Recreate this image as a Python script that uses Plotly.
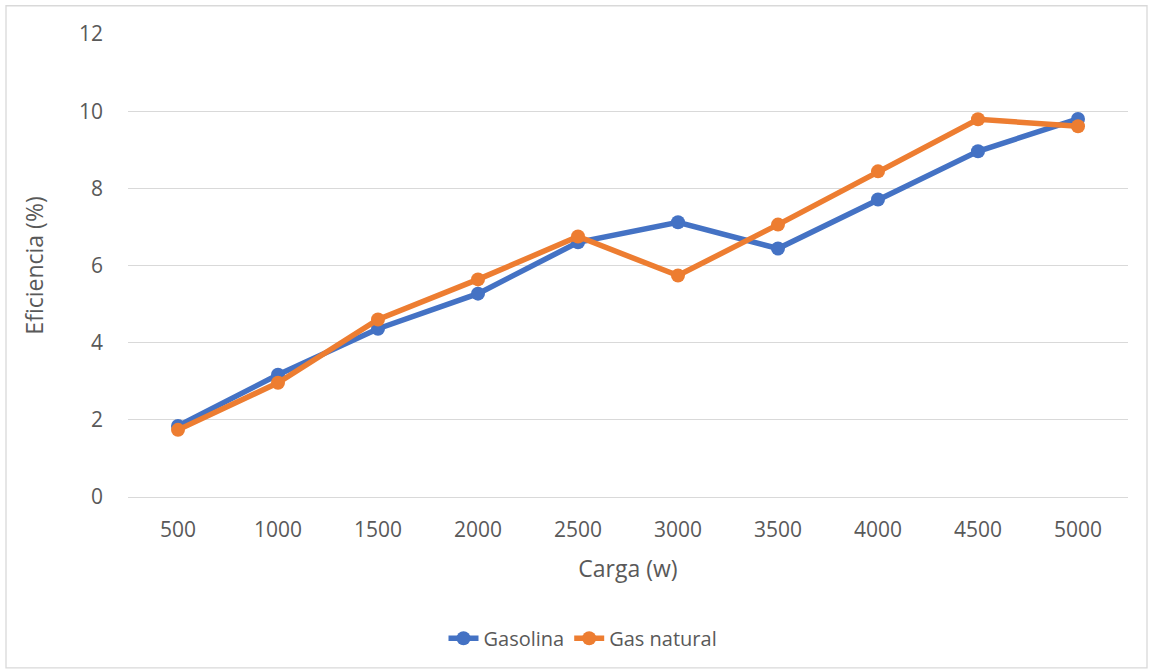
import plotly.graph_objects as go

# Carga (w) categories and efficiency (%) per fuel
cargas = ["500", "1000", "1500", "2000", "2500", "3000", "3500", "4000", "4500", "5000"]
gasolina = [1.84, 3.17, 4.36, 5.27, 6.60, 7.12, 6.44, 7.71, 8.96, 9.80]
gas_natural = [1.74, 2.96, 4.60, 5.64, 6.75, 5.74, 7.06, 8.44, 9.79, 9.61]
y_ticks = [0, 2, 4, 6, 8, 10, 12]

FONT = "'Open Sans', sans-serif"
TEXT = "#595959"

fig = go.Figure()
fig.add_trace(go.Scatter(
    x=cargas, y=gasolina, name="Gasolina", mode="lines+markers",
    line=dict(color="#4472C4", width=5.5), marker=dict(size=14, color="#4472C4"),
))
fig.add_trace(go.Scatter(
    x=cargas, y=gas_natural, name="Gas natural", mode="lines+markers",
    line=dict(color="#ED7D31", width=5.5), marker=dict(size=14, color="#ED7D31"),
))

fig.update_layout(
    width=1151, height=672,
    margin=dict(l=128, r=23, t=34, b=175),
    paper_bgcolor="white", plot_bgcolor="white",
    font=dict(family=FONT, color=TEXT, size=20),
    legend=dict(orientation="h", x=0.455, xanchor="center", y=-0.305, yanchor="middle",
                font=dict(size=20, color=TEXT), traceorder="normal"),
    xaxis=dict(type="category", range=[-0.5, 9.5], showgrid=False, showline=False,
               ticks="", ticklabelstandoff=18, tickfont=dict(size=21, color=TEXT),
               title=dict(text="Carga (w)", font=dict(size=23, color=TEXT), standoff=18)),
    yaxis=dict(range=[0, 12], tickvals=y_ticks, showgrid=True, gridcolor="#D9D9D9",
               gridwidth=1.3, zeroline=True, zerolinecolor="#D9D9D9", zerolinewidth=1.3,
               showline=False, ticks="", ticklabelstandoff=24,
               tickfont=dict(size=21, color=TEXT),
               title=dict(text="Eficiencia (%)", font=dict(size=23, color=TEXT), standoff=28)),
    shapes=[dict(type="rect", xref="paper", yref="paper",
                 x0=-0.122, x1=1.019, y0=-0.369, y1=1.061,
                 line=dict(color="#D9D9D9", width=1.3), layer="below")],
)

fig.write_html("out.html")
